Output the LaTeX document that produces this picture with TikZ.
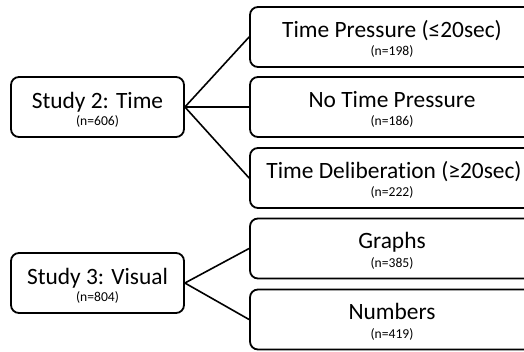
\documentclass[tikz,border=0pt]{standalone}
\usepackage{fontspec}
\setmainfont{Carlito}[Ligatures={NoCommon}]
\begin{document}
\begin{tikzpicture}[x=1pt,y=-1pt,
  box/.style={draw=black,line width=1.8pt,rounded corners=8pt,inner sep=0pt,minimum height=60pt},
  lbox/.style={box,minimum width=173pt},
  rbox/.style={box,minimum width=284pt},
  big/.style={font=\fontsize{23.4}{26}\selectfont,anchor=base,inner sep=0pt},
  small/.style={font=\fontsize{13.6}{15}\selectfont,anchor=base,inner sep=0pt},
  conn/.style={draw=black,line width=1.6pt}]
\clip (0,0) rectangle (524,351);
% left boxes
\node[lbox] (s2) at (97.5,107) {};
\node[lbox] (s3) at (97.5,283) {};
% right boxes
\node[rbox] (r1) at (392,37) {};
\node[rbox] (r2) at (392,107) {};
\node[rbox] (r3) at (392,178) {};
\node[rbox] (r4) at (392,248.5) {};
\node[rbox] (r5) at (392,319.5) {};
% texts
\node[big] (t2) at ([yshift=-1pt]s2.center) {Study 2: Time};
\node[small] (n2) at ([yshift=-18.5pt]s2.center) {(n=606)};
\node[big] (t3) at ([yshift=-1pt]s3.center) {Study 3: Visual};
\node[small] (n3) at ([yshift=-18.5pt]s3.center) {(n=804)};
\node[big] (tr1) at ([yshift=0pt]r1.center) {Time Pressure (≤20sec)};
\node[small] (nr1) at ([yshift=-18.5pt]r1.center) {(n=198)};
\node[big] (tr2) at ([yshift=0pt]r2.center) {No Time Pressure};
\node[small] (nr2) at ([yshift=-18.5pt]r2.center) {(n=186)};
\node[big] (tr3) at ([xshift=2pt]r3.center) {Time Deliberation (≥20sec)};
\node[small] (nr3) at ([yshift=-18.5pt]r3.center) {(n=222)};
\node[big] (tr4) at ([yshift=0pt]r4.center) {Graphs};
\node[small] (nr4) at ([yshift=-18.5pt]r4.center) {(n=385)};
\node[big] (tr5) at ([yshift=0pt]r5.center) {Numbers};
\node[small] (nr5) at ([yshift=-18.5pt]r5.center) {(n=419)};
% connectors
\draw[conn] (s2.east) -- (r1.west);
\draw[conn] (s2.east) -- (r2.west);
\draw[conn] (s2.east) -- (r3.west);
\draw[conn] (s3.east) -- (r4.west);
\draw[conn] (s3.east) -- (r5.west);
\end{tikzpicture}
\end{document}
